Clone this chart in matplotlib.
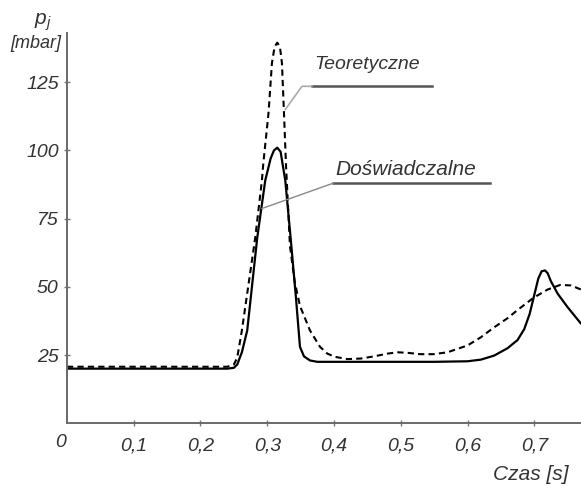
import matplotlib
matplotlib.use("Agg")
import matplotlib.pyplot as plt

plt.rcParams['font.family'] = ['Liberation Sans', 'DejaVu Sans']
plt.rcParams['mathtext.fontset'] = 'custom'
plt.rcParams['mathtext.it'] = 'Liberation Sans:italic'

# Measured pressure (solid) - time [s], p_j [mbar]
t_exp = [0.0, 0.24, 0.25, 0.255, 0.262, 0.27, 0.285, 0.297, 0.305, 0.31, 0.315,
         0.32, 0.327, 0.335, 0.343, 0.349, 0.355, 0.364, 0.375, 0.45, 0.55, 0.6,
         0.62, 0.64, 0.66, 0.675, 0.685, 0.693, 0.7, 0.706, 0.711, 0.716, 0.72,
         0.725, 0.735, 0.75, 0.765, 0.77]
p_exp = [20, 20, 20.3, 21.5, 26, 34, 68, 89, 97, 100, 101,
         99.5, 89, 68, 46, 28, 24.5, 23, 22.5, 22.5, 22.5, 22.7,
         23.3, 24.8, 27.5, 30.5, 34.5, 40, 47, 53, 55.7, 56, 55,
         52, 47.5, 42.5, 38, 36.5]

# Theoretical pressure (dashed)
t_th = [0.0, 0.24, 0.25, 0.255, 0.262, 0.282, 0.292, 0.294, 0.302, 0.307, 0.311,
        0.315, 0.319, 0.322, 0.325, 0.328, 0.33, 0.334, 0.341, 0.349, 0.364,
        0.379, 0.39, 0.402, 0.42, 0.44, 0.46, 0.48, 0.495, 0.51, 0.53, 0.549,
        0.57, 0.6, 0.62, 0.639, 0.66, 0.675, 0.699, 0.72, 0.739, 0.755, 0.77]
p_th = [20.7, 20.7, 21.5, 24, 34, 68, 89, 95, 114, 132, 138,
        139.5, 138, 132, 114, 95, 85, 65, 52, 43, 34,
        28, 25.5, 24.3, 23.5, 23.7, 24.5, 25.5, 26, 25.8, 25.3, 25.3,
        26, 28.5, 31.5, 35, 38.5, 41.5, 46, 49, 50.7, 50.5, 49]

x_ticks = [0.1, 0.2, 0.3, 0.4, 0.5, 0.6, 0.7]
x_labels = ['0,1', '0,2', '0,3', '0,4', '0,5', '0,6', '0,7']
y_ticks = [25, 50, 75, 100, 125]
y_labels = ['25', '50', '75', '100', '125']

fig = plt.figure(figsize=(5.81, 4.87), dpi=100)
ax = fig.add_axes([0.1153, 0.131, 0.8847, 0.801])

ax.plot(t_exp, p_exp, color='black', lw=1.6, solid_capstyle='round')
ax.plot(t_th, p_th, color='black', lw=1.5, linestyle=(0, (3, 2)))

ax.set_xlim(0, 0.77)
ax.set_ylim(0, 143)

for side in ['top', 'right']:
    ax.spines[side].set_visible(False)
for side in ['left', 'bottom']:
    ax.spines[side].set_color('#6a6a6a')
    ax.spines[side].set_linewidth(1.4)

tick_font = dict(fontsize=14, style='italic', color='#333333')
ax.set_xticks(x_ticks)
ax.set_xticklabels(x_labels, **tick_font)
ax.set_yticks(y_ticks)
ax.set_yticklabels(y_labels, **tick_font)
ax.tick_params(axis='both', direction='inout', length=4, width=1, color='#777777')
ax.tick_params(axis='x', pad=8)
ax.tick_params(axis='y', pad=4)

# origin label
ax.text(-0.01, -4, '0', ha='center', va='top', **tick_font, clip_on=False)

# axis titles
fig.text(43 / 581, 1 - 22 / 487, r'$p_j$', ha='center', va='center',
         fontsize=15, color='#333333')
fig.text(36 / 581, 1 - 43 / 487, '[mbar]', ha='center', va='center',
         fontsize=13, style='italic', color='#333333')
fig.text(531 / 581, 1 - 475 / 487, 'Czas [s]', ha='center', va='center',
         fontsize=15, style='italic', color='#333333')

# curve annotations with underline and leader line
ax.text(0.45, 128.5, 'Teoretyczne', ha='center', va='bottom',
        fontsize=14, style='italic', color='#333333')
ax.plot([0.367, 0.547], [123.5, 123.5], color='#555555', lw=1.8)
ax.plot([0.367, 0.352, 0.327], [123.5, 123.5, 115], color='#aaaaaa', lw=1.2)

ax.text(0.508, 89.5, 'Doświadczalne', ha='center', va='bottom',
        fontsize=15, style='italic', color='#333333')
ax.plot([0.399, 0.634], [88, 88], color='#555555', lw=1.8)
ax.plot([0.399, 0.292], [88, 78.7], color='#888888', lw=1.0)

fig.savefig('out.png', dpi=100)
